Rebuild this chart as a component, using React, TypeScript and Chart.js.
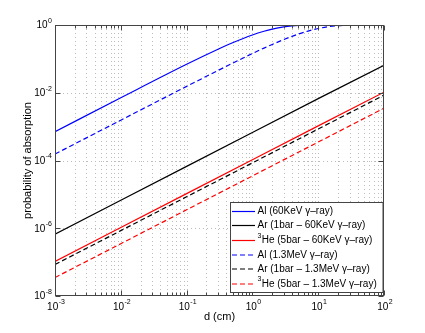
import React, { useEffect, useRef } from 'react';
import { Chart, registerables } from 'chart.js';

Chart.register(...registerables);

// ---- data ----
const curveD = [0.001, 0.01, 0.1, 0.3, 0.5, 1, 1.5, 2, 3, 4, 5, 7, 10, 15, 20, 30, 50, 100];
const alLowE = [7.1e-4, 7.1e-3, 0.069, 0.192, 0.299, 0.508, 0.655, 0.758, 0.882, 0.942, 0.972, 0.993, 0.9992, 1, 1, 1, 1, 1];
const alHighE = [1.55e-4, 1.55e-3, 0.0154, 0.0454, 0.0746, 0.144, 0.208, 0.267, 0.372, 0.462, 0.539, 0.662, 0.788, 0.902, 0.955, 0.99, 0.9996, 1];
const lineD = [0.001, 0.01, 0.1, 1, 10, 100];
const arLowE = [6.7e-7, 6.7e-6, 6.7e-5, 6.7e-4, 6.7e-3, 6.5e-2];
const heLowE = [1.05e-7, 1.05e-6, 1.05e-5, 1.05e-4, 1.05e-3, 1.04e-2];
const arHighE = [8.5e-8, 8.5e-7, 8.5e-6, 8.5e-5, 8.5e-4, 8.5e-3];
const heHighE = [3.5e-8, 3.5e-7, 3.5e-6, 3.5e-5, 3.5e-4, 3.5e-3];

const seriesLabels = [
  'Al (60KeV γ–ray)',
  'Ar (1bar – 60KeV γ–ray)',
  '³He (5bar – 60KeV γ–ray)',
  'Al (1.3MeV γ–ray)',
  'Ar (1bar – 1.3MeV γ–ray)',
  '³He (5bar – 1.3MeV γ–ray)',
];
const xTickExps = [-3, -2, -1, 0, 1, 2];
const yTickExps = [0, -2, -4, -6, -8];
const xTitle = 'd (cm)';
const yTitle = 'probability of absorption';

const FONT = '"Liberation Sans", Arial, Helvetica, sans-serif';
const AXIS_COLOR = '#444444';
const GRID_COLOR = '#bdbdbd';
const DASH = [5, 3];

const pts = (xs: number[], ys: number[]) => xs.map((x, i) => ({ x, y: ys[i] }));

function drawPow(ctx: CanvasRenderingContext2D, exp: number, x: number, y: number, mode: 'center' | 'right') {
  const base = '10';
  const sup = exp < 0 ? '-' + Math.abs(exp) : String(exp);
  ctx.font = `10px ${FONT}`;
  const wb = ctx.measureText(base).width;
  ctx.font = `7px ${FONT}`;
  const ws = ctx.measureText(sup).width;
  const total = wb + ws + 0.5;
  const start = mode === 'center' ? x - total / 2 : x - total;
  ctx.textAlign = 'left';
  ctx.textBaseline = 'middle';
  ctx.fillStyle = '#000';
  ctx.font = `10px ${FONT}`;
  ctx.fillText(base, start, y);
  ctx.font = `7px ${FONT}`;
  ctx.fillText(sup, start + wb + 0.5, y - 4.5);
}

const framePlugin = {
  id: 'matlabFrame',
  beforeDraw(chart: any) {
    const ctx = chart.ctx as CanvasRenderingContext2D;
    ctx.save();
    ctx.fillStyle = '#ffffff';
    ctx.fillRect(0, 0, chart.width, chart.height);
    ctx.restore();
  },
  beforeDatasetsDraw(chart: any) {
    const ctx = chart.ctx as CanvasRenderingContext2D;
    const xs = chart.scales.x;
    const ys = chart.scales.y;
    const { left, right, top, bottom } = chart.chartArea;
    ctx.save();
    ctx.strokeStyle = GRID_COLOR;
    ctx.lineWidth = 1;
    ctx.setLineDash([1, 3]);
    for (let e = xTickExps[0]; e < xTickExps[xTickExps.length - 1]; e++) {
      for (let k = 1; k <= 9; k++) {
        if (e === xTickExps[0] && k === 1) continue;
        const px = Math.round(xs.getPixelForValue(k * Math.pow(10, e))) + 0.5;
        ctx.beginPath();
        ctx.moveTo(px, top);
        ctx.lineTo(px, bottom);
        ctx.stroke();
      }
    }
    for (const e of yTickExps) {
      const py = Math.round(ys.getPixelForValue(Math.pow(10, e))) + 0.5;
      if (py <= top + 1 || py >= bottom - 1) continue;
      ctx.beginPath();
      ctx.moveTo(left, py);
      ctx.lineTo(right, py);
      ctx.stroke();
    }
    ctx.restore();
  },
  afterDatasetsDraw(chart: any) {
    const ctx = chart.ctx as CanvasRenderingContext2D;
    const xs = chart.scales.x;
    const ys = chart.scales.y;
    const { left, right, top, bottom } = chart.chartArea;
    const L = Math.round(left) + 0.5;
    const R = Math.round(right) - 0.5;
    const T = Math.round(top) + 0.5;
    const B = Math.round(bottom) - 0.5;
    ctx.save();
    ctx.setLineDash([]);
    ctx.strokeStyle = AXIS_COLOR;
    ctx.lineWidth = 1;
    ctx.strokeRect(L, T, R - L, B - T);
    // x ticks
    ctx.beginPath();
    for (let e = xTickExps[0]; e <= xTickExps[xTickExps.length - 1]; e++) {
      for (let k = 1; k <= 9; k++) {
        const v = k * Math.pow(10, e);
        if (v > Math.pow(10, xTickExps[xTickExps.length - 1]) + 1e-9) break;
        const px = Math.round(xs.getPixelForValue(v)) + 0.5;
        const len = k === 1 ? 5 : 3;
        ctx.moveTo(px, B);
        ctx.lineTo(px, B - len);
        ctx.moveTo(px, T);
        ctx.lineTo(px, T + len);
      }
    }
    // y ticks
    for (const e of yTickExps) {
      const py = Math.round(ys.getPixelForValue(Math.pow(10, e))) + 0.5;
      ctx.moveTo(L, py);
      ctx.lineTo(L + 5, py);
      ctx.moveTo(R, py);
      ctx.lineTo(R - 5, py);
    }
    ctx.stroke();

    // tick labels
    for (const e of xTickExps) {
      const px = xs.getPixelForValue(Math.pow(10, e));
      drawPow(ctx, e, px + 1, bottom + 11, 'center');
    }
    for (const e of yTickExps) {
      const py = ys.getPixelForValue(Math.pow(10, e));
      drawPow(ctx, e, left - 3, py + 0.5, 'right');
    }

    // axis titles
    ctx.fillStyle = '#000';
    ctx.font = `11px ${FONT}`;
    ctx.textAlign = 'center';
    ctx.textBaseline = 'middle';
    ctx.fillText(xTitle, (left + right) / 2, bottom + 21);
    ctx.save();
    ctx.translate(27.5, (top + bottom) / 2);
    ctx.rotate(-Math.PI / 2);
    ctx.fillText(yTitle, 0, 0);
    ctx.restore();

    // legend
    const bx = 230.5, by = 202.5, bw = 152.5, bh = 90;
    ctx.fillStyle = '#ffffff';
    ctx.fillRect(bx, by, bw, bh);
    ctx.strokeStyle = AXIS_COLOR;
    ctx.strokeRect(bx, by, bw, bh);
    const rowY = [211.5, 225.5, 240.5, 255, 269, 284];
    chart.data.datasets.forEach((ds: any, i: number) => {
      const y = rowY[i];
      ctx.save();
      ctx.strokeStyle = ds.borderColor;
      ctx.lineWidth = ds.borderWidth;
      ctx.setLineDash(ds.borderDash || []);
      ctx.beginPath();
      ctx.moveTo(232, y);
      ctx.lineTo(255, y);
      ctx.stroke();
      ctx.restore();
      let label: string = ds.label;
      let x = 257.5;
      ctx.fillStyle = '#000';
      ctx.textAlign = 'left';
      ctx.textBaseline = 'middle';
      if (label.startsWith('³')) {
        ctx.font = `7px ${FONT}`;
        ctx.fillText('3', x, y - 4.5);
        x += ctx.measureText('3').width + 0.3;
        label = label.slice(1);
      }
      ctx.font = `10px ${FONT}`;
      ctx.fillText(label, x, y);
    });
    ctx.restore();
  },
};

export default function App() {
  const ref = useRef<HTMLCanvasElement>(null);
  useEffect(() => {
    const canvas = ref.current;
    if (!canvas) return;
    const mk = (label: string, xs: number[], ys: number[], color: string, dashed: boolean, curve: boolean) => ({
      label,
      data: pts(xs, ys),
      borderColor: color,
      backgroundColor: color,
      borderWidth: 1.2,
      borderDash: dashed ? DASH : [],
      pointRadius: 0,
      fill: false,
      cubicInterpolationMode: curve ? 'monotone' : 'default',
    });
    const chart = new Chart(canvas, {
      type: 'line',
      data: {
        datasets: [
          mk(seriesLabels[0], curveD, alLowE, '#0000ff', false, true),
          mk(seriesLabels[1], lineD, arLowE, '#000000', false, false),
          mk(seriesLabels[2], lineD, heLowE, '#ff0000', false, false),
          mk(seriesLabels[3], curveD, alHighE, '#0000ff', true, true),
          mk(seriesLabels[4], lineD, arHighE, '#000000', true, false),
          mk(seriesLabels[5], lineD, heHighE, '#ff0000', true, false),
        ] as any,
      },
      options: {
        responsive: false,
        animation: false,
        devicePixelRatio: 1,
        events: [],
        layout: { padding: { top: 25, right: 41, left: 0, bottom: 0 } },
        plugins: { legend: { display: false }, tooltip: { enabled: false }, title: { display: false } },
        scales: {
          x: {
            type: 'logarithmic',
            min: 1e-3,
            max: 1e2,
            ticks: { display: false },
            grid: { display: false },
            border: { display: false },
            afterFit: (s: any) => { s.height = 37; },
          },
          y: {
            type: 'logarithmic',
            min: 1e-8,
            max: 1,
            ticks: { display: false },
            grid: { display: false },
            border: { display: false },
            afterFit: (s: any) => { s.width = 55; },
          },
        },
      } as any,
      plugins: [framePlugin],
    });
    return () => chart.destroy();
  }, []);
  return (
    <div style={{ position: 'absolute', left: 0, top: 0, width: 425, height: 333, background: '#fff' }}>
      <canvas ref={ref} width={425} height={333} style={{ display: 'block', width: 425, height: 333 }} />
    </div>
  );
}
